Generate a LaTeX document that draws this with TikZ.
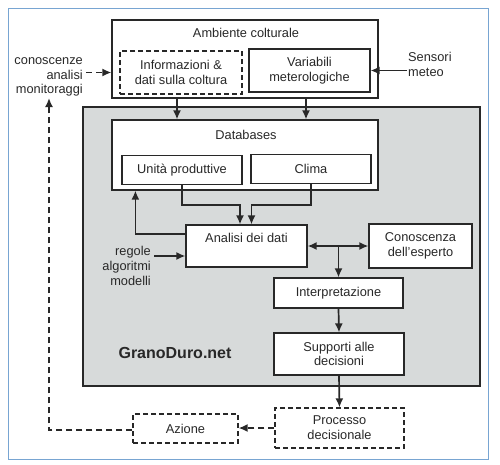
\documentclass[tikz,border=0pt]{standalone}
\usepackage{fontspec}
\setmainfont{Liberation Sans}
\usetikzlibrary{arrows.meta}
\definecolor{framebl}{RGB}{120,165,210}
\definecolor{panel}{RGB}{215,218,218}
\definecolor{ink}{RGB}{40,40,40}
\begin{document}
\begin{tikzpicture}[x=1pt,y=-1pt,
  txt/.style={font=\fontsize{12.8}{14.8}\selectfont, text=ink, align=center, inner sep=0pt},
  box/.style={txt, draw=ink, line width=1.2pt, fill=white},
  dbox/.style={box, dash pattern=on 5pt off 3pt},
  arr/.style={-{Latex[length=9pt,width=8pt]}, line width=1.7pt, draw=ink},
  darr/.style={arr, dash pattern=on 6pt off 4pt}]
\useasboundingbox (0,0) rectangle (500,464);
\draw[framebl, line width=1pt] (8,8) rectangle (488,459);

% grey panel
\node[draw=ink, line width=1.2pt, fill=panel, minimum width=397pt, minimum height=279pt, inner sep=0pt] (panel) at (281.5,246.5) {};
\node[txt, font=\bfseries\fontsize{16}{18}\selectfont] (gd) at (175,353) {GranoDuro.net};

% Ambiente colturale
\node[box, minimum width=266pt, minimum height=78pt] (amb) at (245,59) {};
\node[txt] (ambt) at (246,33) {Ambiente colturale};
\node[dbox, minimum width=122pt, minimum height=43pt] (info) at (181,72.5) {Informazioni \&\\dati sulla coltura};
\node[box, minimum width=121pt, minimum height=43pt] (var) at (309.5,70.5) {Variabili\\meterologiche};

% Databases
\node[box, minimum width=266pt, minimum height=70pt] (db) at (245,155) {};
\node[txt] (dbt) at (246,135) {Databases};
\node[box, minimum width=120pt, minimum height=29pt] (uni) at (182,170) {Unità produttive};
\node[box, minimum width=120pt, minimum height=29pt] (cli) at (311,169) {Clima};

% middle
\node[box, minimum width=121pt, minimum height=42pt] (ana) at (246.5,246) {};
\node[txt] (anat) at (246.5,238) {Analisi dei dati};
\node[box, minimum width=103pt, minimum height=44pt] (con) at (420.5,246) {Conoscenza\\dell’esperto};
\node[box, minimum width=129pt, minimum height=30pt] (int) at (338.5,293) {Interpretazione};
\node[box, minimum width=130pt, minimum height=42pt] (sup) at (339,354) {Supporti alle\\decisioni};
\node[dbox, minimum width=129pt, minimum height=40pt] (proc) at (339.5,428) {Processo\\decisionale};
\node[dbox, minimum width=105pt, minimum height=29pt] (az) at (185.5,428.5) {Azione};

% side texts
\node[txt, align=right, anchor=east] (cono) at (83,77) {conoscenze\\analisi\\monitoraggi};
\node[txt, align=left, anchor=west] (sens) at (408,64.5) {Sensori\\meteo};
\node[txt, align=right, anchor=east] (reg) at (151,266) {regole\\algoritmi\\modelli};
\coordinate (mon) at (49,98);

% connectors
\draw[arr] ([xshift=-4pt]info.south |- amb.south) -- ([xshift=-4pt]info.south |- db.north);
\draw[arr] ([xshift=-3.5pt]var.south |- amb.south) -- ([xshift=-3.5pt]var.south |- db.north);
\draw[arr] (uni.south) -- ++(0,20) -| ([xshift=-6.5pt]ana.north);
\draw[arr] (cli.south) -- ++(0,21) -| ([xshift=5pt]ana.north);
\draw[arr] ([yshift=12pt]ana.west) -| ([xshift=24pt]db.south west);
\draw[arr] ([yshift=-10pt,xshift=3pt]ana.west -| reg.east) -- ([yshift=-10pt]ana.west);
\draw[arr, {Latex[length=9pt,width=8pt]}-{Latex[length=9pt,width=8pt]}] (ana.east) -- (con.west);
\draw[arr] (ana.east -| int.north) -- (int.north);
\draw[arr] (int.south) -- (sup.north);
\draw[arr] (sup.south) -- (proc.north);
\draw[darr] (proc.west) -- (proc.west -| az.east);
\draw[darr] ([yshift=-1.5pt]az.west) -| (mon);
\draw[darr] ([yshift=-13.5pt,xshift=3pt]amb.west -| cono.east) -- ([yshift=-13.5pt]amb.west);
\draw[arr] ([xshift=-1pt]var.east -| sens.west) -- (var.east);
\end{tikzpicture}
\end{document}
